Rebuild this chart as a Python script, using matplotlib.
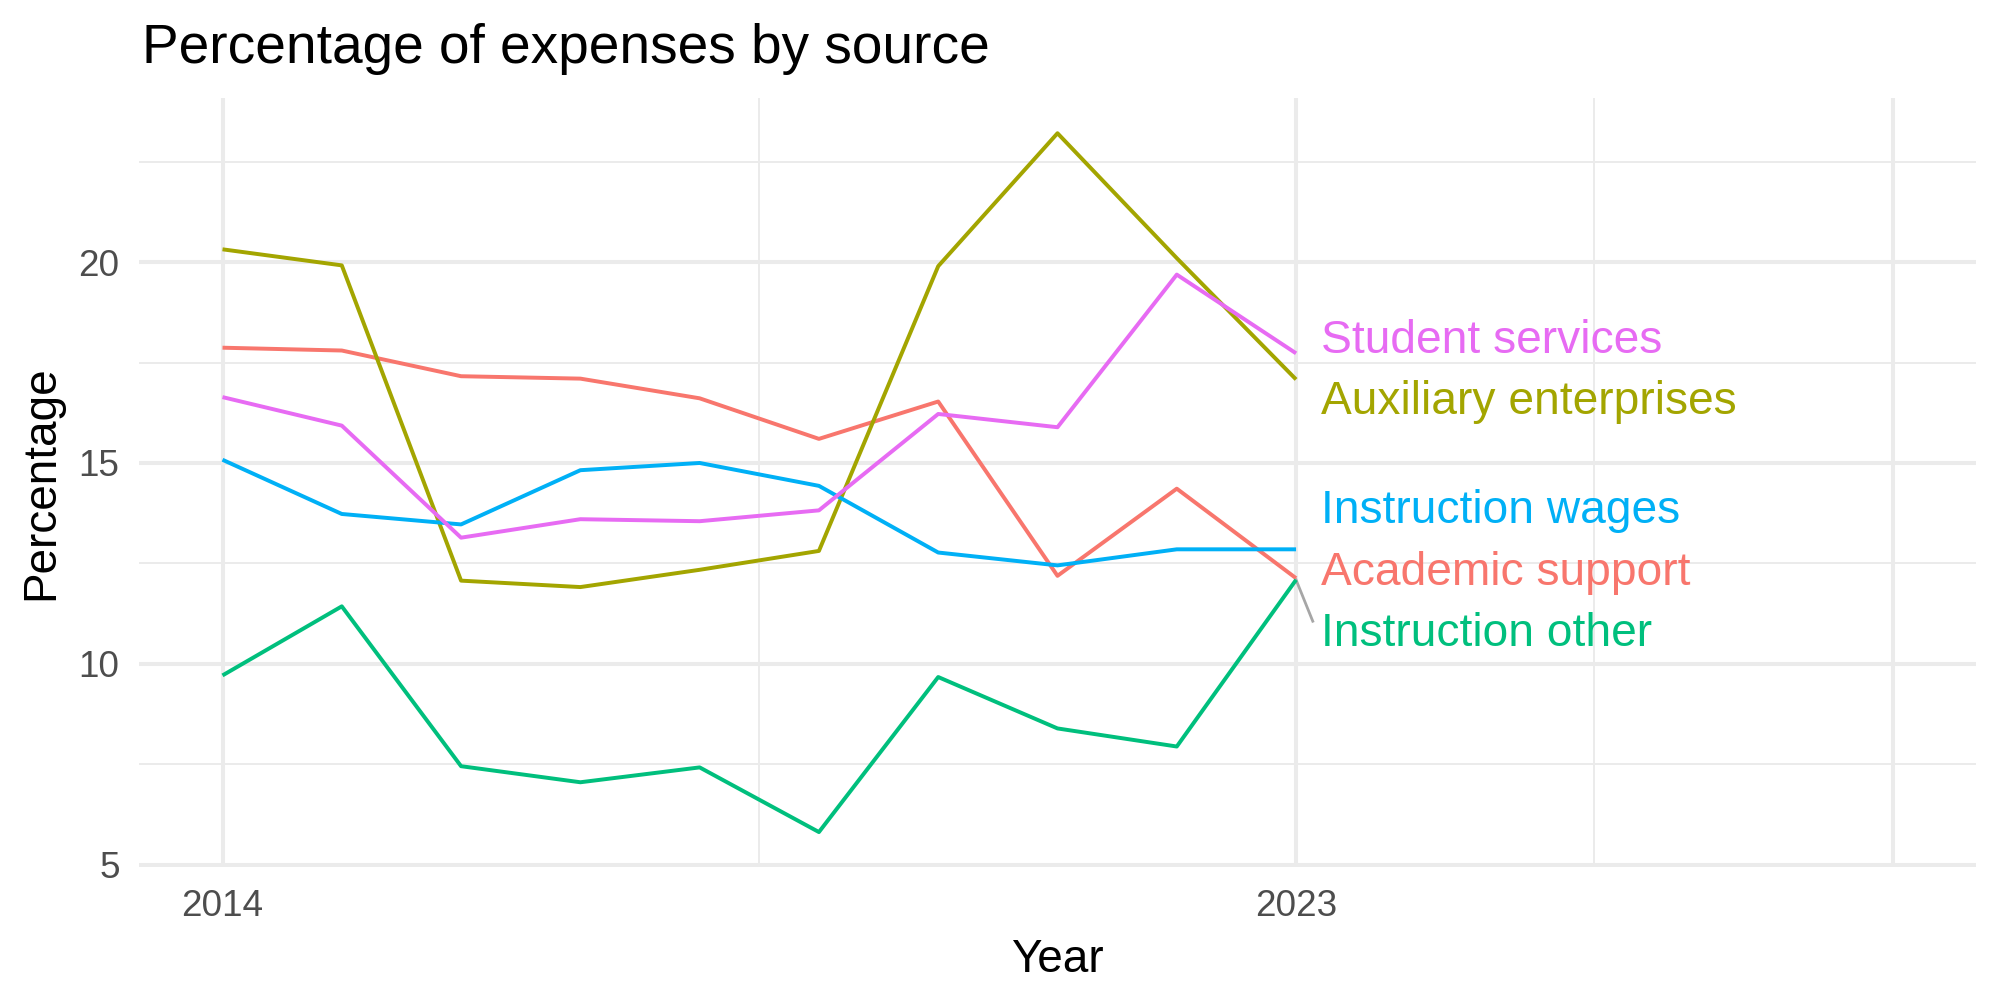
import matplotlib
matplotlib.use("Agg")
import matplotlib.pyplot as plt

# ---- data ----
years = [2014, 2015, 2016, 2017, 2018, 2019, 2020, 2021, 2022, 2023]
series_names = ["Academic support", "Auxiliary enterprises", "Instruction other",
                "Instruction wages", "Student services"]
academic_support = [17.87, 17.80, 17.16, 17.10, 16.61, 15.60, 16.53, 12.19, 14.36, 12.13]
auxiliary_enterprises = [20.32, 19.92, 12.07, 11.91, 12.34, 12.81, 19.90, 23.21, 20.10, 17.08]
instruction_other = [9.71, 11.43, 7.45, 7.05, 7.42, 5.81, 9.67, 8.39, 7.94, 12.09]
instruction_wages = [15.08, 13.73, 13.47, 14.82, 15.00, 14.43, 12.77, 12.45, 12.85, 12.85]
student_services = [16.64, 15.93, 13.14, 13.60, 13.55, 13.82, 16.22, 15.89, 19.69, 17.73]
values = [academic_support, auxiliary_enterprises, instruction_other,
          instruction_wages, student_services]
x_tick_values = [2014, 2023, 2028]
x_tick_labels = ["2014", "2023", ""]
y_tick_values = [5, 10, 15, 20]

# ---- style / layout ----
colors = ["#F8766D", "#A3A500", "#00BF7D", "#00B0F6", "#E76BF3"]
label_x = 2023.21
label_y_baseline = [11.97, 16.22, 10.44, 13.51, 17.75]
FONT = ["Liberation Sans", "DejaVu Sans"]
plt.rcParams["font.family"] = FONT

fig = plt.figure(figsize=(10, 5), dpi=200)
ax = fig.add_axes([0.0695, 0.133, 0.9185, 0.7687])

xmin, xmax = 2014, 2028
ymin = min(min(v) for v in values)
ymax = max(max(v) for v in values)
xpad = (xmax - xmin) * 0.05
ypad = (ymax - ymin) * 0.05
ax.set_xlim(xmin - xpad, xmax + xpad)
ax.set_ylim(ymin - ypad, ymax + ypad)

grid = "#EBEBEB"
for xv in x_tick_values:
    ax.axvline(xv, color=grid, lw=1.45, zorder=0)
for xv in [2018.5, 2025.5]:
    ax.axvline(xv, color=grid, lw=0.72, zorder=0)
for yv in y_tick_values:
    ax.axhline(yv, color=grid, lw=1.45, zorder=0)
for yv in [7.5, 12.5, 17.5, 22.5]:
    ax.axhline(yv, color=grid, lw=0.72, zorder=0)

for name, vals, c in zip(series_names, values, colors):
    ax.plot(years, vals, color=c, lw=1.42, solid_capstyle="butt", zorder=2)

# repel-style labels
for name, vals, c, ly in zip(series_names, values, colors, label_y_baseline):
    ax.text(label_x, ly, name, color=c, fontsize=16.6, ha="left", va="baseline",
            zorder=3)
# connector segment for Instruction other
ax.plot([years[-1], 2023.14], [instruction_other[-1], 11.06], color="#A6A6A6",
        lw=1.0, zorder=1)

for s in ax.spines.values():
    s.set_visible(False)
ax.set_xticks(x_tick_values)
ax.set_xticklabels(x_tick_labels)
ax.set_yticks(y_tick_values)
ax.tick_params(length=0, labelsize=13.3, labelcolor="#4D4D4D")
ax.tick_params(axis="x", pad=8)
ax.tick_params(axis="y", pad=7)
ax.set_xlabel("Year", fontsize=16.5, color="black", labelpad=5)
ax.set_ylabel("Percentage", fontsize=16.5, color="black", labelpad=5.5)
ax.set_facecolor("white")

fig.text(141.6 / 2000, 1 - 62.7 / 1000, "Percentage of expenses by source",
         fontsize=19.8, ha="left", va="baseline", color="black")

fig.savefig("out.png", dpi=200, facecolor="white")
